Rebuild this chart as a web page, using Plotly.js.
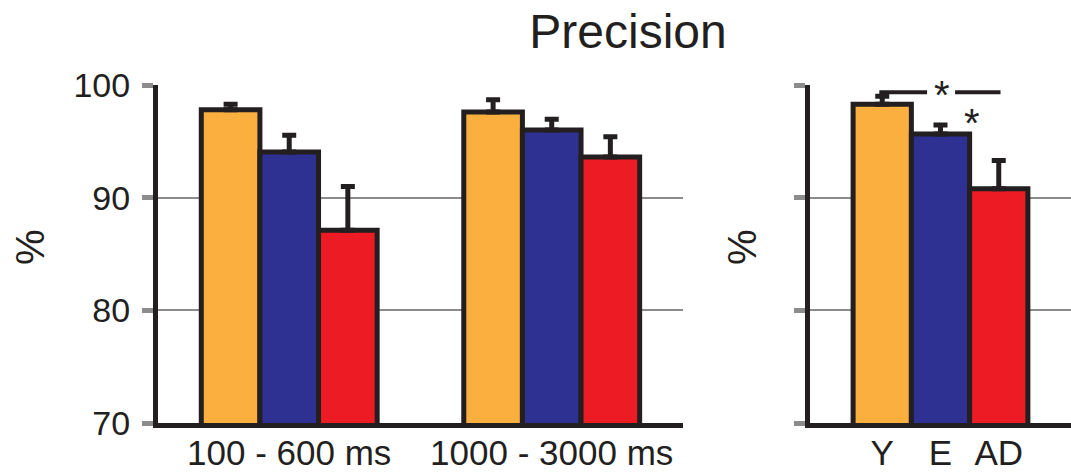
<!DOCTYPE html>
<html>
<head>
<meta charset="utf-8">
<script src="https://cdn.plot.ly/plotly-3.0.1.min.js"></script>
<style>html,body{margin:0;padding:0;background:#fff;}#chart{width:1071px;height:472px;}</style>
</head>
<body>
<div id="chart"></div>
<script>
// ---- data ----
var categories = ["100 - 600 ms", "1000 - 3000 ms"];
var youngVals = [97.8, 97.6];
var youngErr = [0.5, 1.1];
var elderlyVals = [94.05, 96.0];
var elderlyErr = [1.5, 0.95];
var adVals = [87.1, 93.6];
var adErr = [3.9, 1.8];

var groupLabels = ["Y", "E", "AD"];
var overallVals = [98.3, 95.65, 90.8];
var overallErr = [0.7, 0.8, 2.5];

var yTicks = [70, 80, 90, 100];

// ---- styles ----
var ORANGE = "#FBAF3F", BLUE = "#2E3192", RED = "#ED1C24", INK = "#231F20", GRID = "#8C8C8C";
var FONT = "Liberation Sans, Arial, Helvetica, sans-serif";

function zeros(n){ var a=[]; for(var i=0;i<n;i++) a.push(0); return a; }

function barTrace(x, y, err, color, xa, ya, extra) {
  var t = {
    type: "bar", x: x, y: y, xaxis: xa, yaxis: ya,
    marker: { color: color, line: { color: INK, width: 5 } },
    error_y: { type: "data", symmetric: false, array: err, arrayminus: zeros(err.length),
               color: INK, thickness: 5, width: 7 },
    showlegend: false, hoverinfo: "x+y"
  };
  for (var k in extra) t[k] = extra[k];
  return t;
}

var data = [
  barTrace(categories, youngVals, youngErr, ORANGE, "x", "y", {name: "Y"}),
  barTrace(categories, elderlyVals, elderlyErr, BLUE, "x", "y", {name: "E"}),
  barTrace(categories, adVals, adErr, RED, "x", "y", {name: "AD"}),
  barTrace(groupLabels, overallVals, overallErr, [ORANGE, BLUE, RED], "x2", "y2", {width: [1,1,1], name: "all"})
];

var yDomain = [0.1038, 0.8199];

function yAxis(showLabels) {
  return {
    domain: yDomain, range: [70, 100], tickvals: yTicks, ticktext: yTicks.map(String),
    showticklabels: showLabels, ticks: "outside", ticklen: 11, tickwidth: 5, tickcolor: GRID,
    showgrid: true, gridcolor: GRID, gridwidth: 2,
    showline: true, linecolor: INK, linewidth: 5, zeroline: false,
    tickfont: { family: FONT, size: 34, color: INK }, ticklabelstandoff: 5,
    fixedrange: true
  };
}

function xAxis(domain, range, anchor) {
  return {
    domain: domain, type: "category", range: range, anchor: anchor,
    showline: true, linecolor: INK, linewidth: 5, ticks: "", showgrid: false, zeroline: false,
    tickfont: { family: FONT, size: 35, color: INK }, ticklabelstandoff: -5, fixedrange: true
  };
}

var layout = {
  width: 1071, height: 472,
  margin: { l: 0, r: 0, t: 0, b: 0 },
  paper_bgcolor: "#fff", plot_bgcolor: "rgba(0,0,0,0)",
  barmode: "group", bargap: 0.33, bargroupgap: 0,
  font: { family: FONT, color: INK },
  title: { text: "Precision", font: { family: FONT, size: 48, color: INK },
           x: 628/1071, xanchor: "center", xref: "container", y: 1 - 31/472, yanchor: "middle", yref: "container" },
  xaxis: xAxis([0.1475, 0.6377], [-0.5, 1.5], "y"),
  yaxis: yAxis(true),
  xaxis2: xAxis([0.7563, 1.0], [-1.24, 3.24], "y2"),
  yaxis2: (function(){ var a = yAxis(false); a.anchor = "x2"; return a; })(),
  shapes: [
    { type: "line", xref: "x2", yref: "y2", x0: -0.05, x1: 0.77, y0: 99.35, y1: 99.35, line: { color: INK, width: 4 } },
    { type: "line", xref: "x2", yref: "y2", x0: 1.25, x1: 2.03, y0: 99.35, y1: 99.35, line: { color: INK, width: 4 } }
  ],
  annotations: [
    { text: "%", xref: "paper", yref: "paper", x: 30/1071, y: (472-247)/472, textangle: -90,
      showarrow: false, font: { family: FONT, size: 40, color: INK }, xanchor: "center", yanchor: "middle" },
    { text: "%", xref: "paper", yref: "paper", x: 742/1071, y: (472-247)/472, textangle: -90,
      showarrow: false, font: { family: FONT, size: 40, color: INK }, xanchor: "center", yanchor: "middle" },
    { text: "*", xref: "x2", yref: "y2", x: 1.03, y: 99.15, showarrow: false,
      font: { family: FONT, size: 40, color: INK }, xanchor: "center", yanchor: "middle" },
    { text: "*", xref: "x2", yref: "y2", x: 1.54, y: 96.6, showarrow: false,
      font: { family: FONT, size: 40, color: INK }, xanchor: "center", yanchor: "middle" }
  ]
};

Plotly.newPlot("chart", data, layout, { displayModeBar: false, staticPlot: true });
</script>
</body>
</html>
